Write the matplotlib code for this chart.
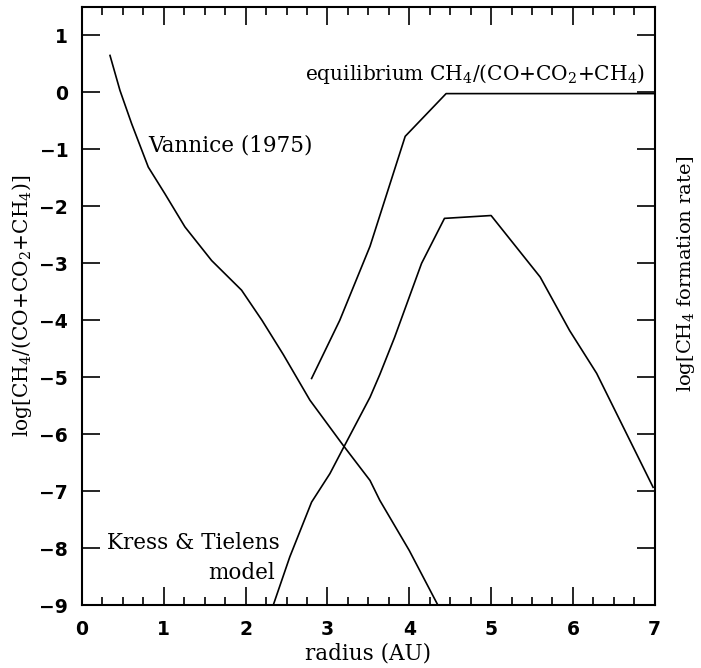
import numpy as np
import matplotlib
matplotlib.use('Agg')
import matplotlib.pyplot as plt
from matplotlib.ticker import MultipleLocator

plt.rcParams['font.family'] = 'DejaVu Serif'
plt.rcParams['mathtext.fontset'] = 'dejavuserif'

# Vannice (1975) curve
vannice_r = [0.342, 0.464, 0.607, 0.81, 1.014, 1.258, 1.584, 1.95, 2.2, 2.46, 2.785, 3.19, 3.52, 3.64, 4.0, 4.35]
vannice_y = [0.65, 0.035, -0.55, -1.31, -1.78, -2.36, -2.95, -3.47, -4.0, -4.6, -5.40, -6.19, -6.81, -7.16, -8.04, -9.0]

# equilibrium CH4/(CO+CO2+CH4)
equil_r = [2.806, 3.15, 3.52, 3.95, 4.45, 7.0]
equil_y = [-5.02, -4.0, -2.7, -0.77, -0.02, -0.02]

# Kress & Tielens model (formation rate)
kt_r = [2.337, 2.54, 2.806, 3.03, 3.19, 3.52, 3.64, 3.82, 4.15, 4.43, 5.0, 5.6, 5.96, 6.29, 6.98]
kt_y = [-9.0, -8.15, -7.19, -6.69, -6.25, -5.35, -4.95, -4.3, -3.0, -2.21, -2.16, -3.24, -4.18, -4.93, -6.93]

fig = plt.figure(figsize=(7.01, 6.68), dpi=100)
ax = fig.add_axes([0.117, 0.094, 0.817, 0.8955])

ax.plot(vannice_r, vannice_y, color='black', lw=1.2)
ax.plot(equil_r, equil_y, color='black', lw=1.2)
ax.plot(kt_r, kt_y, color='black', lw=1.2)

ax.set_xlim(0, 7)
ax.set_ylim(-9, 1.5)
ax.xaxis.set_major_locator(MultipleLocator(1))
ax.xaxis.set_minor_locator(MultipleLocator(0.25))
ax.yaxis.set_major_locator(MultipleLocator(1))
ax.tick_params(which='both', direction='in', top=True, right=True, width=1.2)
ax.tick_params(which='major', length=13)
ax.tick_params(which='minor', length=6)
ax.tick_params(axis='y', labelsize=13.5, pad=10)
ax.tick_params(axis='x', labelsize=13.5, pad=11)
for lab in ax.get_xticklabels() + ax.get_yticklabels():
    lab.set_fontfamily('DejaVu Sans')
    lab.set_fontweight('bold')
for s in ax.spines.values():
    s.set_linewidth(1.5)

ax.set_xlabel('radius (AU)', fontsize=15.5, labelpad=2)
ax.set_ylabel(r'log[CH$_4$/(CO+CO$_2$+CH$_4$)]', fontsize=14.5, labelpad=4)
ax.text(1.054, 0.555, r'log[CH$_4$ formation rate]', transform=ax.transAxes,
        rotation=90, va='center', ha='center', fontsize=14)

ax.text(2.72, 0.33, r'equilibrium CH$_4$/(CO+CO$_2$+CH$_4$)', fontsize=14.5, ha='left', va='center')
ax.text(0.806, -0.93, 'Vannice (1975)', fontsize=15.5, ha='left', va='center')
ax.text(0.305, -7.91, 'Kress & Tielens', fontsize=15.5, ha='left', va='center')
ax.text(2.36, -8.44, 'model', fontsize=15.5, ha='right', va='center')

fig.savefig('out.png', dpi=100)
